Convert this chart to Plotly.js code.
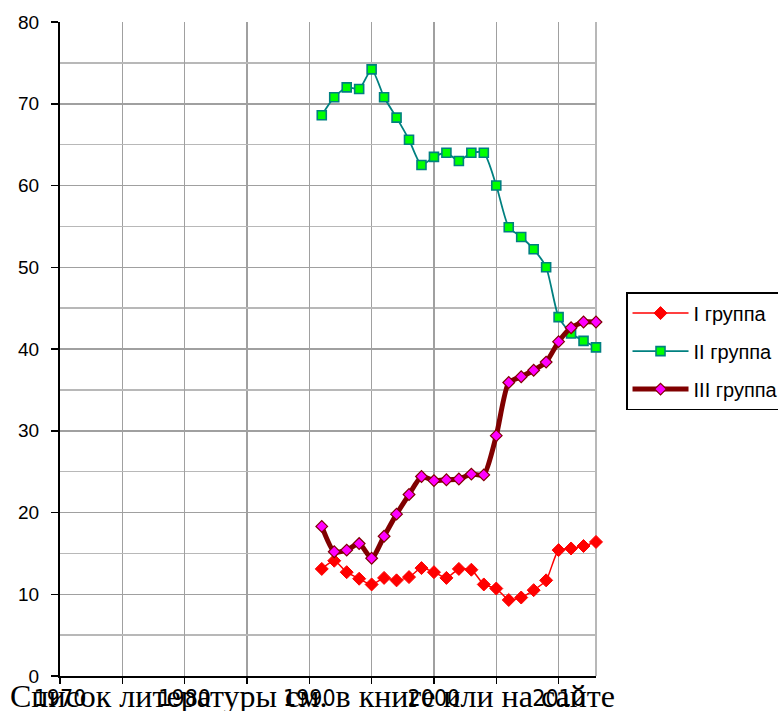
<!DOCTYPE html>
<html>
<head>
<meta charset="utf-8">
<script src="https://cdn.plot.ly/plotly-3.0.1.min.js"></script>
<style>
html,body{margin:0;padding:0;background:#fff;}
#chart{width:778px;height:711px;}
</style>
</head>
<body>
<div id="chart"></div>
<script>
const years = [1991,1992,1993,1994,1995,1996,1997,1998,1999,2000,2001,2002,2003,2004,2005,2006,2007,2008,2009,2010,2011,2012,2013];
const group1 = [13.1,14.1,12.7,11.9,11.2,12.0,11.7,12.1,13.2,12.7,12.0,13.1,13.0,11.2,10.7,9.3,9.6,10.5,11.7,15.4,15.6,15.9,16.4];
const group2 = [68.6,70.8,72.0,71.8,74.2,70.8,68.3,65.6,62.5,63.5,64.0,63.0,64.0,64.0,60.0,54.9,53.7,52.2,50.0,43.9,41.9,41.0,40.2];
const group3 = [18.3,15.2,15.4,16.2,14.4,17.1,19.8,22.2,24.4,23.9,24.0,24.1,24.7,24.6,29.4,35.9,36.6,37.4,38.4,40.9,42.6,43.3,43.3];
const seriesNames = ['I группа','II группа','III группа'];
const caption = 'Список литературы см. в книге или на сайте';

const traces = [
  {x: years, y: group1, name: seriesNames[0], legendgroup:'g1', type:'scatter', mode:'lines+markers', cliponaxis:false,
   line:{color:'#FF0000', width:1.5, shape:'spline', smoothing:0.6},
   marker:{symbol:'diamond', size:10, color:'#FF0000', line:{color:'#FF0000', width:1}}},
  {x: years, y: group2, name: seriesNames[1], legendgroup:'g2', type:'scatter', mode:'lines+markers', cliponaxis:false,
   line:{color:'#008080', width:1.8, shape:'spline', smoothing:0.6},
   marker:{symbol:'square', size:9, color:'#00FF00', line:{color:'#008080', width:1.6}}},
  {x: years, y: group3, name: seriesNames[2], legendgroup:'g3', type:'scatter', mode:'lines+markers', cliponaxis:false,
   line:{color:'#800000', width:5, shape:'spline', smoothing:0.6},
   marker:{symbol:'diamond', size:9, color:'#FF00FF', line:{color:'#800000', width:1.2}}}
];

const layout = {
  width:778, height:711,
  paper_bgcolor:'#fff', plot_bgcolor:'#fff',
  margin:{l:60, r:182, t:22, b:35, autoexpand:false},
  font:{family:'Liberation Sans, Arial, sans-serif', color:'#000'},
  showlegend:true,
  legend:{x:1.056, y:0.587, xanchor:'left', yanchor:'top', bgcolor:'#fff',
          bordercolor:'#000', borderwidth:1.5, font:{size:20, family:'Liberation Sans, Arial, sans-serif'},
          traceorder:'grouped', tracegroupgap:9, itemwidth:56},
  xaxis:{range:[1970,2013], tick0:1970, dtick:10, ticks:'outside', ticklen:6, tickwidth:1.5, tickcolor:'#000',
         showline:true, linecolor:'#000', linewidth:2, zeroline:false,
         showgrid:true, gridcolor:'#a0a0a0', gridwidth:1.5,
         minor:{tick0:1970, dtick:5, ticks:'outside', ticklen:6, tickwidth:1.5, tickcolor:'#000', showgrid:true, gridcolor:'#a0a0a0', gridwidth:1.5},
         tickfont:{family:'Liberation Sans Narrow, Arial Narrow, DejaVu Sans Condensed, sans-serif', size:23, color:'#000'},
         ticklabelstandoff:-6, fixedrange:true},
  yaxis:{range:[0,80], tick0:0, dtick:10, ticks:'outside', ticklen:7, tickwidth:1.5, tickcolor:'#000',
         showline:true, linecolor:'#000', linewidth:2, zeroline:false,
         showgrid:true, gridcolor:'#a0a0a0', gridwidth:1.5,
         minor:{tick0:0, dtick:5, showgrid:true, gridcolor:'#b8b8b8', gridwidth:1.5, ticks:''},
         tickfont:{family:'Liberation Sans, Arial, sans-serif', size:19, color:'#000'},
         ticklabelstandoff:8, fixedrange:true},
  shapes:[
    {type:'line', xref:'paper', yref:'paper', x0:1, x1:1, y0:0, y1:1, line:{color:'#a0a0a0', width:1.5}, layer:'below'}
  ],
  annotations:[
    {text:caption, xref:'paper', yref:'paper', x:-0.097, y:-0.03, xanchor:'left', yanchor:'middle',
     showarrow:false, font:{family:'Liberation Serif, Times New Roman, serif', size:32, color:'#000'}}
  ]
};

Plotly.newPlot('chart', traces, layout, {displayModeBar:false, staticPlot:true});
</script>
</body>
</html>
